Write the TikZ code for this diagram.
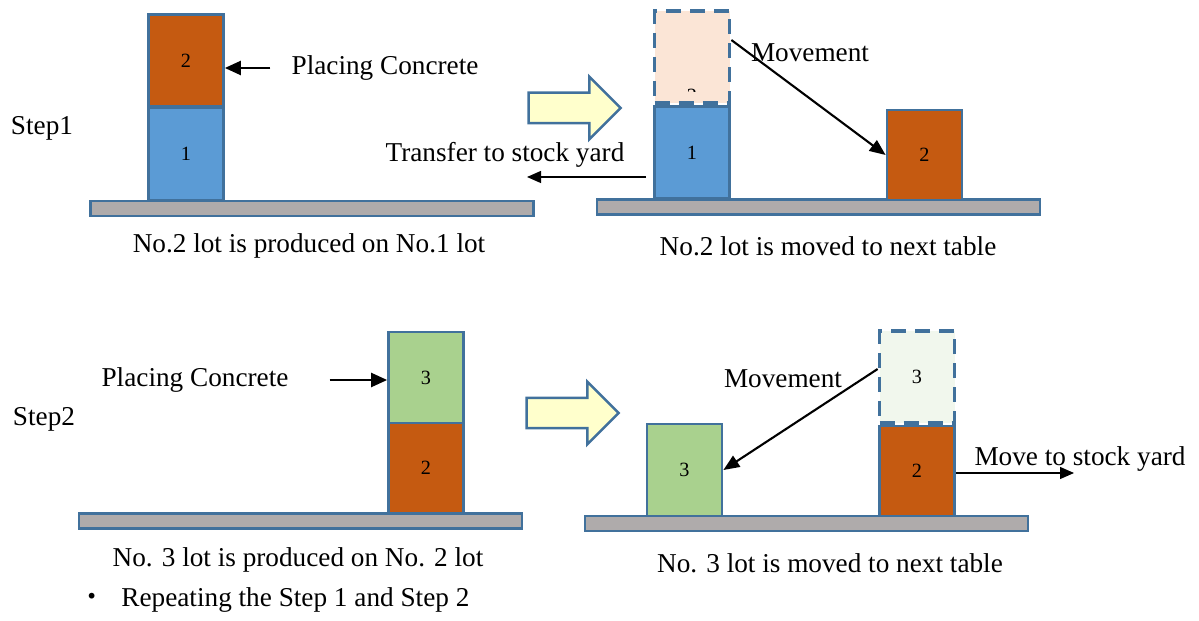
\documentclass[tikz,border=0pt]{standalone}
\usepackage{fontspec}
\setmainfont{Liberation Serif}
\newfontfamily\cjk{Noto Sans CJK JP}
\usepackage{tikz}
\usetikzlibrary{shapes.arrows,arrows.meta,positioning}
\definecolor{lotblue}{HTML}{5B9BD5}
\definecolor{lotorange}{HTML}{C55A11}
\definecolor{lotgreen}{HTML}{A9D18E}
\definecolor{ghostpeach}{HTML}{FBE5D6}
\definecolor{ghostgreen}{HTML}{F1F7ED}
\definecolor{edgeblue}{HTML}{41719C}
\definecolor{benchgray}{HTML}{AFABAB}
\definecolor{nextyellow}{HTML}{FFFFCC}

\begin{document}
\begin{tikzpicture}[x=0.02cm,y=-0.02cm,
  lot/.style={rectangle,draw=edgeblue,line width=0.055cm,
              minimum width=1.5cm,minimum height=1.84cm,inner sep=0pt,
              font=\fontsize{11.5}{13}\selectfont},
  ghost/.style={lot,dash pattern=on 0.3cm off 0.18cm,line width=0.075cm},
  bench/.style={rectangle,draw=edgeblue,fill=benchgray,line width=0.05cm,
                minimum width=8.86cm,minimum height=0.3cm,inner sep=0pt},
  nextstep/.style={single arrow,draw=edgeblue,fill=nextyellow,line width=0.05cm,
                   minimum height=1.84cm,inner xsep=0pt,inner ysep=0.28cm,
                   single arrow head extend=0.32cm},
  txt/.style={font=\fontsize{15.5}{18}\selectfont},
  feed/.style={-{Triangle[length=0.32cm,width=0.28cm]},line width=0.045cm},
  move/.style={-{Triangle[length=0.32cm,width=0.26cm]},line width=0.042cm},
  yard/.style={-{Triangle[length=0.28cm,width=0.24cm]},line width=0.025cm}]
\useasboundingbox (0,0) rectangle (1199,621);
%% ── Step 1, left: No.2 lot is cast on No.1 lot ─────────────────────────
\node[txt](step1) at (42,128) {Step1};
\node[bench](tab1l) at (312,208.5) {};
\node[lot,fill=lotblue](s1l1) at (186,154) {1};
\node[lot,fill=lotorange](s1l2) at (186,60.5) {2};
\node[txt](pc1) at (385,68) {Placing Concrete};
\draw[feed,shorten <=0.3cm](pc1.west) -- (pc1.west -| s1l2.east);
\node[txt](cap1l) at (309,246) {No.2 lot is produced on No.1 lot};
%% ── Step 1, right: No.2 lot is moved ───────────────────────────────────
\node[nextstep](next1) at (567,108) {};
\node[bench](tab1r) at (818.5,207) {};
\node[ghost,fill=ghostpeach](s1rg) at (692,57) {};
\begin{scope}
  \clip (655,12) rectangle (729,92);
  \node[font=\fontsize{11.5}{13}\selectfont](s1rgnum) at (692,96) {2};
\end{scope}
\node[lot,fill=lotblue](s1r1) at (692,152.5) {1};
\node[lot,fill=lotorange,minimum height=1.8cm](s1r2) at (924.5,155) {2};
\node[txt](mv1) at (810,53) {Movement};
\draw[move]([yshift=0.34cm]s1rg.east) -- (s1r2.west);
\node[txt](tr1) at (505,155) {Transfer to stock yard};
\coordinate (yard1) at (527,177);
\draw[yard,shorten <=0.14cm](s1r1.west |- yard1) -- (yard1);
\node[txt](cap1r) at (828,246) {No.2 lot is moved to next table};
%% ── Step 2, left: No.3 lot is cast on No.2 lot ─────────────────────────
\node[txt](step2) at (44,419) {Step2};
\node[bench](tab2l) at (300.5,521) {};
\node[lot,fill=lotorange,minimum height=1.8cm](s2l2) at (426,468) {2};
\node[lot,fill=lotgreen,minimum height=1.82cm](s2l3) at (426,377.5) {3};
\node[txt](pc2) at (195,380) {Placing Concrete};
\draw[feed,shorten <=0.7cm](pc2.east) -- (pc2.east -| s2l3.west);
\node[txt](cap2l) at (298,560) {No. 3 lot is produced on No. 2 lot};
%% ── Step 2, right: No.3 lot is moved ───────────────────────────────────
\node[nextstep](next2) at (565,413) {};
\node[bench](tab2r) at (806.5,523.5) {};
\node[lot,fill=lotgreen](s2r3) at (684.5,470) {3};
\node[ghost,fill=ghostgreen](s2rg) at (917,377) {3};
\node[lot,fill=lotorange,minimum height=1.8cm](s2r2) at (917,471) {2};
\node[txt](mv2) at (783,379) {Movement};
\draw[move]([yshift=0.16cm]s2rg.west) -- (s2r3.east);
\node[txt](tr2) at (1080,459) {Move to stock yard};
\coordinate (yard2) at (1074,473);
\draw[yard](s2r2.east |- yard2) -- (yard2);
\node[txt](cap2r) at (830,563) {No. 3 lot is moved to next table};
%% ── Note ───────────────────────────────────────────────────────────────
\node[txt,anchor=west](note) at (72,600)
  {{\cjk ・}\hspace{0.32cm}Repeating the Step 1 and Step 2};
\end{tikzpicture}
\end{document}
